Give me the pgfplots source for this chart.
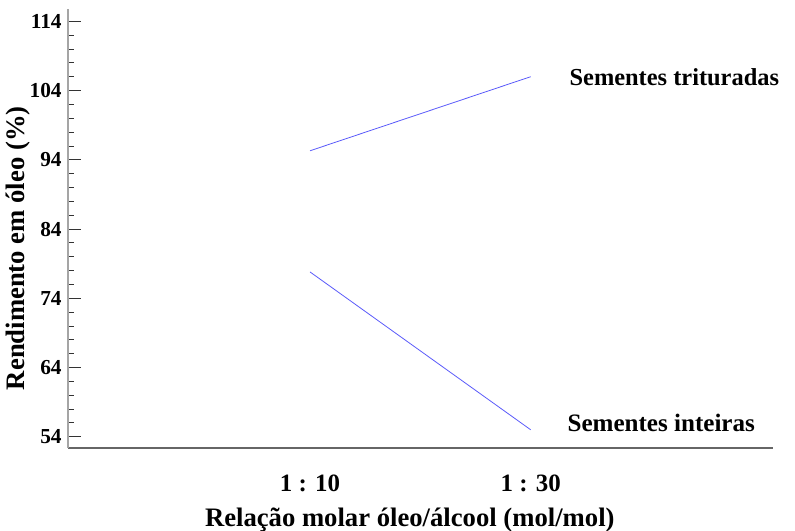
\documentclass[border=0pt]{standalone}
\usepackage{pgfplots}
\pgfplotsset{compat=1.18}
\usepackage{fontspec}
\setmainfont{Liberation Serif}
\definecolor{linblue}{RGB}{90,90,250}
\definecolor{axgray}{RGB}{165,165,165}
\begin{document}
\begin{tikzpicture}[x=0.75pt,y=0.75pt]
\useasboundingbox (0,0) rectangle (795,531);
\begin{axis}[
  at={(67.7*0.75pt,83*0.75pt)}, anchor=south west,
  scale only axis,
  width=705.3*0.75pt, height=439*0.75pt,
  xmin=-1.098, xmax=2.098,
  ymin=52.37, ymax=115.78,
  axis x line=bottom, axis y line=left,
  y axis line style={-, draw=axgray, line width=1.5pt},
  x axis line style={-, draw=black!60, line width=1pt},
  xtick={0,1}, xticklabels={1 : 10, 1 : 30},
  xtick style={draw=none},
  xticklabel style={font=\bfseries\fontsize{18.7}{18.7}\selectfont, yshift=-17pt},
  ytick={54,64,74,84,94,104,114},
  minor y tick num=4,
  ytick style={draw=black!80, line width=0.6pt},
  tick align=inside,
  major tick length=9.75pt, minor tick length=4.5pt,
  yticklabel style={font=\bfseries\fontsize{16}{16}\selectfont, xshift=-1pt},
  /pgf/number format/assume math mode=true,
  xlabel={Relação molar óleo/álcool (mol/mol)},
  ylabel={Rendimento em óleo (\%)},
  xlabel style={font=\bfseries\fontsize{20}{20}\selectfont, at={(axis description cs:0.485,-0.163)}, anchor=center},
  ylabel style={font=\bfseries\fontsize{20}{20}\selectfont, at={(axis description cs:-0.0705,0.455)}, anchor=center},
  clip=false,
]
\addplot[linblue, line width=0.6pt] coordinates {(0,95.3) (1,106.0)};
\addplot[linblue, line width=0.6pt] coordinates {(0,77.8) (1,55.0)};
\node[anchor=west, font=\bfseries\fontsize{18.3}{18.3}\selectfont] at (axis cs:1.155,106.0) {Sementes trituradas};
\node[anchor=west, font=\bfseries\fontsize{18.8}{18.8}\selectfont] at (axis cs:1.146,56.0) {Sementes inteiras};
\end{axis}
\end{tikzpicture}
\end{document}
